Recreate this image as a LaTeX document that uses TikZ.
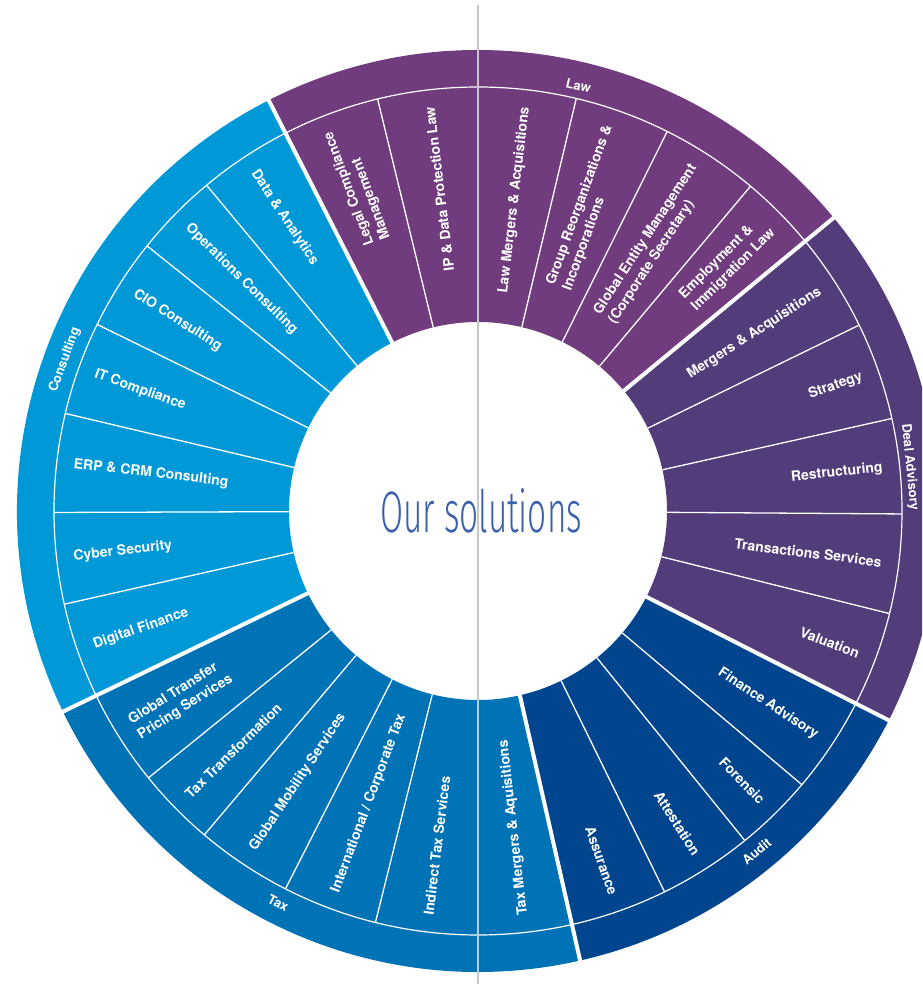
\documentclass[tikz,border=0pt]{standalone}
\usepackage{fontspec}
\usepackage{graphicx}
\setmainfont{TeX Gyre Heros}
\IfFontExistsTF{Fira Sans Light}
  {\newfontfamily\titlefont{Fira Sans Light}}
  {\newfontfamily\titlefont{TeX Gyre Heros}}
\usepackage{tikz}
\usetikzlibrary{positioning}

\definecolor{lawc}{HTML}{703C7E}
\definecolor{dealc}{HTML}{523C7A}
\definecolor{auditc}{HTML}{01458E}
\definecolor{taxc}{HTML}{0072B6}
\definecolor{consc}{HTML}{0098D7}
\definecolor{titlec}{HTML}{3C60AA}
\definecolor{linec}{HTML}{C8C8C8}

\begin{document}
\begin{tikzpicture}[x=1pt,y=1pt,
    sub/.style={text=white,font=\bfseries\fontsize{14}{17.5}\selectfont,inner sep=0pt,align=left},
    grp/.style={text=white,font=\bfseries\fontsize{13}{14}\selectfont,inner sep=0pt}]
  \useasboundingbox (-478,-473) rectangle (444,511);
  \clip (-478,-473) rectangle (444,511);
  % the five sectors
  \foreach \a/\b/\c in {39.5/117/lawc,117/205.8/consc,205.8/282.8/taxc,-77.2/-27/auditc,-27/39.5/dealc}
    \fill[\c] (\a:189) arc[start angle=\a,end angle=\b,radius=189]
      -- (\b:461) arc[start angle=\b,end angle=\a,radius=461] -- cycle;
  \draw[white,line width=1.2pt] (0,0) circle[radius=424];
  % thin dividers
  \foreach \a in {103.7,76.6,63.5,50,26,12.6,-0.4,-14,-40.2,-51,-63.9,256,243,229.8,219,129.8,141.3,153.9,166.7,180.2,192.7}
    \draw[white,line width=1.3pt] (\a:189) -- (\a:424);
  % thick dividers
  \foreach \a in {39.5,117,205.8,282.8,333}
    \draw[white,line width=4pt] (\a:185) -- (\a:466);

  % labels reading outwards
  \foreach \a/\t [count=\i] in {110.35/{Legal Compliance\\Management},
      96.85/{IP \& Data Protection Law},83.3/{Law Mergers \& Acquisitions},
      70.05/{Group Reorganizations \&\\Incorporations},
      56.75/{Global Entity Management\\(Corporate Secretary)},
      44.75/{Employment \&\\Immigration Law},32.75/{Mergers \& Acquisitions},
      19.3/Strategy,6.1/Restructuring,-7.2/{Transactions Services},-20.5/Valuation,
      -33.6/{Finance Advisory},-45.6/Forensic,-57.45/Attestation,-70.55/Assurance}
    \node (o\i) [sub,rotate=\a,anchor=east] at (\a:407) {\t};
  % labels reading inwards
  \foreach \a/\t [count=\i] in {276.4/{Tax Mergers \& Aquisitions},263/{Indirect Tax Services},
      249.5/{International / Corporate Tax},236.4/{Global Mobility Services},
      224.4/{Tax Transformation},212.4/{Global Transfer\\Pricing Services},
      199.25/{Digital Finance},186.45/{Cyber Security},173.45/{ERP \& CRM Consulting},
      160.3/{IT Compliance},147.6/{CIO Consulting},135.55/{Operations Consulting},
      123.4/{Data \& Analytics}}
    \node (n\i) [sub,rotate=\a-180,anchor=west] at (\a:407) {\t};

  % group names
  \node (law) [grp,rotate=-13.3] at (76.7:437) {Law};
  \node (cons) [grp,rotate=69.9] at (159.9:440) {Consulting};
  \node (deal) [grp,rotate=-84.3] at (5.8:434) {Deal Advisory};
  \node (tax) [grp,rotate=-27] at (243:440) {Tax};
  \node (audit) [grp,rotate=39.3] at (-50.7:440) {Audit};

  \node (title) [text=titlec,inner sep=0pt,anchor=base] at (3,-22)
    {\resizebox{202pt}{44pt}{\titlefont Our solutions}};

  \coordinate (top) at (0,506);
  \coordinate (bot) at (0,-480);
  \draw[linec,line width=2.2pt] (top) -- (bot);
\end{tikzpicture}
\end{document}
